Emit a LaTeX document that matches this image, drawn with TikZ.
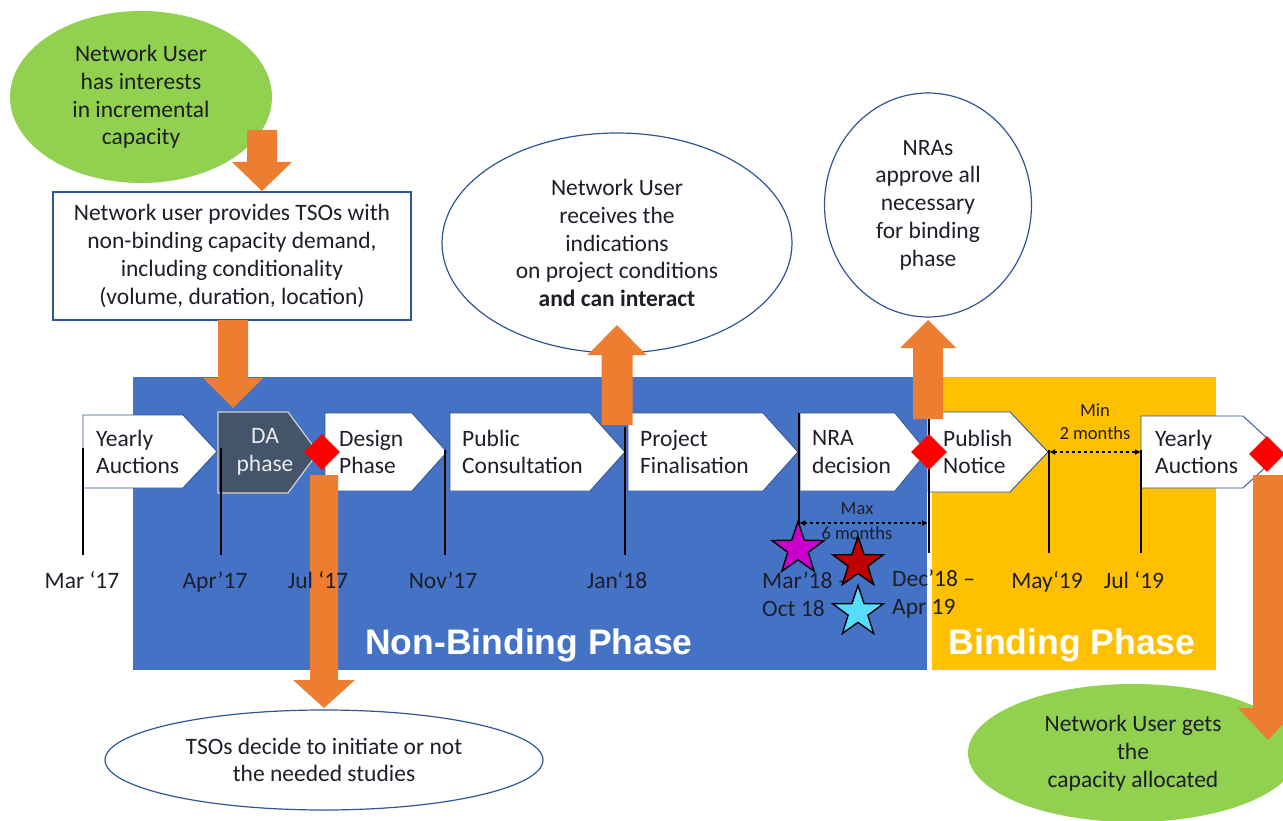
\documentclass[tikz,border=0pt]{standalone}
\usepackage{fontspec}
\setmainfont{Carlito}
\newfontfamily\headfont{Liberation Sans}
\usetikzlibrary{shapes.geometric,arrows.meta}
\definecolor{nbblue}{HTML}{4472C4}
\definecolor{byellow}{HTML}{FFC000}
\definecolor{gorange}{HTML}{ED7D31}
\definecolor{lgreen}{HTML}{92D050}
\definecolor{slate}{HTML}{44546A}
\definecolor{edgeblue}{HTML}{2F5597}
\definecolor{txt}{HTML}{1E1E2A}
\definecolor{starmag}{HTML}{CC00CC}
\definecolor{starred}{HTML}{C00000}
\definecolor{starcyan}{HTML}{55DDFF}
% chevron: xl, xs, xt, yt, yb, style
\newcommand\mychev[6]{%
  \path[#6] (#1,#4) -- (#2,#4) -- (#3,{(#4+#5)/2}) -- (#2,#5) -- (#1,#5) -- cycle;}
% block arrow: cx, yend, ybase, ytip, shaft half, head half
\newcommand\blockarrow[6]{%
  \fill[gorange] ({#1-#5},#2) -- ({#1-#5},#3) -- ({#1-#6},#3) -- (#1,#4) -- ({#1+#6},#3) -- ({#1+#5},#3) -- ({#1+#5},#2) -- cycle;}
\begin{document}
\begin{tikzpicture}[x=1pt,y=-1pt,
  every node/.style={font=\fontsize{23.5}{27.8}\selectfont, text=txt, inner sep=0pt},
  chevw/.style={fill=white, draw=edgeblue, line width=0.9pt},
  chevd/.style={fill=slate, draw=black!18, line width=1.2pt},
  bubble/.style={ellipse, draw=edgeblue, line width=1.2pt, fill=white, align=center},
  gbubble/.style={ellipse, fill=lgreen, align=center},
  chevtext/.style={anchor=west, align=left},
  datelabel/.style={anchor=base},
  tick/.style={draw=black, line width=1.3pt},
  mile/.style={diamond, fill=red, minimum size=36pt, inner sep=0pt},
  mystar/.style={star, star points=5, star point ratio=2.55, draw=black, line width=1.4pt, inner sep=0pt},
  gap/.style={dashed, line width=1.2pt, {Latex[length=6pt,width=6pt]}-{Latex[length=6pt,width=6pt]}},
  small/.style={font=\fontsize{18.5}{24}\selectfont},
  phase/.style={font=\headfont\bfseries\fontsize{35.5}{40}\selectfont, text=white, anchor=base}
]
\useasboundingbox (0,0) rectangle (1283,821);
\begin{scope}
\clip (0,0) rectangle (1283,821);
% phase backgrounds
\fill[nbblue] (133,377) rectangle (927,670);
\fill[byellow] (932,377) rectangle (1216,670);

% top-left green ellipse and demand box
\node[gbubble, minimum width=262pt, minimum height=172pt] (interest) at (141,97)
  {Network User\\has interests\\in incremental\\capacity};
\node[draw=edgeblue, line width=1.2pt, fill=white, minimum width=358pt, minimum height=128pt, align=center] (demand) at (232,256)
  {Network user provides TSOs with\\non-binding capacity demand,\\including conditionality\\(volume, duration, location)};

% upper bubbles
\node[bubble, minimum width=350pt, minimum height=220pt] (receive) at (617,243)
  {Network User\\receives the\\indications\\on project conditions\\\textbf{and can interact}};
\node[bubble, minimum width=207pt, minimum height=224pt] (approve) at (928,205)
  {NRAs\\approve all\\necessary\\for binding\\phase};

% lower bubbles
\node[bubble, minimum width=438pt, minimum height=100pt] (studies) at (324,760)
  {TSOs decide to initiate or not\\the needed studies};
\node[gbubble, minimum width=330pt, minimum height=138pt] (allocated) at (1133,753)
  {Network User gets\\the\\capacity allocated};

% chevrons
\mychev{83}{183}{217}{415}{488}{chevw}
\mychev{218}{288}{318}{412}{493}{chevd}
\mychev{325}{412}{447}{413}{491}{chevw}
\mychev{450}{590}{625}{413}{491}{chevw}
\mychev{628}{763}{798}{413}{491}{chevw}
\mychev{800}{895}{927}{413}{491}{chevw}
\mychev{928}{1010}{1048}{412}{492}{chevw}
\mychev{1141}{1243}{1282}{416}{488}{chevw}
\node[chevtext] (ya1) at (96,452) {Yearly\\Auctions};
\node[align=center, text=white!92!black] (da) at (265,452) {DA\\phase};
\node[chevtext] (design) at (339,452) {Design\\Phase};
\node[chevtext] (public) at (462,452) {Public\\Consultation};
\node[chevtext] (final) at (640,452) {Project\\Finalisation};
\node[chevtext] (nra) at (812,452) {NRA\\decision};
\node[chevtext] (publish) at (943,452) {Publish\\Notice};
\node[chevtext] (ya2) at (1155,452) {Yearly\\Auctions};

% orange block arrows
\blockarrow{262}{130}{162}{191}{15}{30}
\blockarrow{233}{320}{378}{408}{15}{30}
\blockarrow{617}{425}{355}{325}{15.5}{29.5}
\blockarrow{928}{419}{348}{320}{15}{28}
\blockarrow{324}{475}{680}{708}{14}{31}
\blockarrow{1268}{475}{708}{740}{15}{30}

% tick lines
\coordinate (t1a) at (83,448);   \coordinate (t1b) at (83,555);
\coordinate (t2a) at (221,448);  \coordinate (t2b) at (221,555);
\coordinate (t3a) at (445,450);  \coordinate (t3b) at (445,555);
\coordinate (t4a) at (625,427);  \coordinate (t4b) at (625,555);
\coordinate (t5a) at (799,413);  \coordinate (t5b) at (799,525);
\coordinate (t6a) at (929,419);  \coordinate (t6b) at (929,553);
\coordinate (t7a) at (1049,450); \coordinate (t7b) at (1049,553);
\coordinate (t8a) at (1141,450); \coordinate (t8b) at (1141,553);
\foreach \i in {1,...,8} {\draw[tick] (t\i a) -- (t\i b);}

% milestones
\node[mile] (m1) at (322,452) {};
\node[mile] (m2) at (929,452) {};
\node[mile] (m3) at (1267,454) {};

% dates
\node[datelabel] (d1) at (82,588) {Mar ‘17};
\node[datelabel] (d2) at (215,588) {Apr’17};
\node[datelabel] (d3) at (318,588) {Jul ‘17};
\node[datelabel] (d4) at (443,588) {Nov’17};
\node[datelabel] (d5) at (617,588) {Jan‘18};
\node[anchor=west, align=left] (d6) at (762,594) {Mar’18 –\\Oct 18};
\node[anchor=west, align=left] (d7) at (892,594) {Dec’18 –\\Apr 19};
\node[datelabel] (d8) at (1047,588) {May‘19};
\node[datelabel] (d9) at (1134,588) {Jul ‘19};

% gap arrows
\coordinate (g1a) at (799,523); \coordinate (g1b) at (928,523);
\draw[gap] (g1a) -- (g1b);
\node[small] (max) at (857,509) {Max};
\node[small] (six) at (857,533) {6 months};
\coordinate (g2a) at (1049,452); \coordinate (g2b) at (1141,452);
\draw[gap] (g2a) -- (g2b);
\node[small] (min) at (1095,410) {Min};
\node[small] (two) at (1095,433) {2 months};

% stars
\node[mystar, fill=starmag, minimum size=55pt] (s1) at (798,549) {};
\node[mystar, fill=starred, minimum size=53pt] (s2) at (858,563) {};
\node[mystar, fill=starcyan, minimum size=53pt] (s3) at (858,612) {};

% phase titles
\node[phase] (nb) at (529,654) {Non-Binding Phase};
\node[phase] (bp) at (1072,654) {Binding Phase};
\end{scope}
\end{tikzpicture}
\end{document}
